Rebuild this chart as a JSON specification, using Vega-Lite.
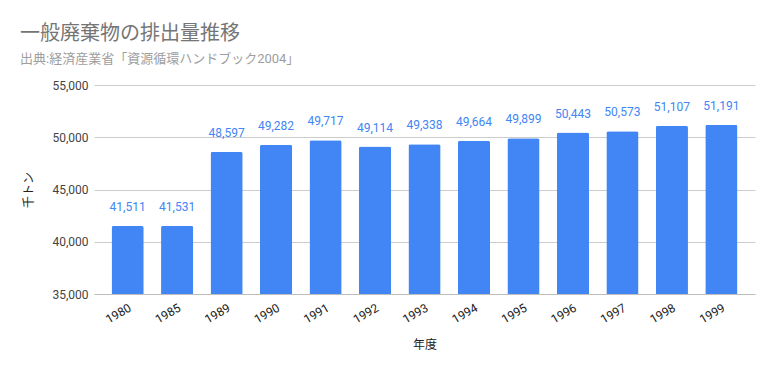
{
  "$schema": "https://vega.github.io/schema/vega-lite/v6.json",
  "width": 661,
  "height": 209,
  "autosize": {"type": "none"},
  "padding": {"left": 94, "top": 85, "right": 19, "bottom": 77},
  "background": "white",
  "title": {
    "text": "一般廃棄物の排出量推移",
    "subtitle": "出典:経済産業省「資源循環ハンドブック2004」",
    "anchor": "start",
    "frame": "group",
    "dx": -74,
    "offset": 13,
    "font": "Roboto, Noto Sans CJK JP",
    "fontSize": 20,
    "fontWeight": "normal",
    "color": "#757575",
    "subtitleFont": "Roboto, Noto Sans CJK JP",
    "subtitleFontSize": 13,
    "subtitleColor": "#9e9e9e",
    "subtitlePadding": 9
  },
  "config": {
    "view": {"stroke": null},
    "font": "Roboto, Noto Sans CJK JP"
  },
  "data": {
    "values": [
      {"year": "1980", "value": 41511},
      {"year": "1985", "value": 41531},
      {"year": "1989", "value": 48597},
      {"year": "1990", "value": 49282},
      {"year": "1991", "value": 49717},
      {"year": "1992", "value": 49114},
      {"year": "1993", "value": 49338},
      {"year": "1994", "value": 49664},
      {"year": "1995", "value": 49899},
      {"year": "1996", "value": 50443},
      {"year": "1997", "value": 50573},
      {"year": "1998", "value": 51107},
      {"year": "1999", "value": 51191}
    ]
  },
  "encoding": {
    "x": {
      "field": "year",
      "type": "ordinal",
      "scale": {"paddingInner": 0.35, "paddingOuter": 0.355},
      "axis": {
        "title": "年度",
        "titleFontSize": 12,
        "titleFontWeight": "normal",
        "titleColor": "#222",
        "titlePadding": 14,
        "labelAngle": -30,
        "labelFontSize": 12,
        "labelColor": "#222",
        "labelPadding": 8,
        "ticks": false,
        "domainColor": "#bdbdbd",
        "grid": false
      }
    },
    "y": {
      "field": "value",
      "type": "quantitative",
      "scale": {"domain": [35000, 55000], "zero": false, "clamp": true},
      "axis": {
        "title": "千トン",
        "titleFontSize": 12,
        "titleFontWeight": "normal",
        "titleColor": "#222",
        "titlePadding": 16,
        "values": [35000, 40000, 45000, 50000, 55000],
        "format": ",d",
        "labelFontSize": 12,
        "labelColor": "#444",
        "labelPadding": 6,
        "ticks": false,
        "domain": false,
        "gridColor": "#cccccc"
      }
    }
  },
  "layer": [
    {
      "mark": {"type": "bar", "color": "#4285f4", "cornerRadiusTopLeft": 2, "cornerRadiusTopRight": 2}
    },
    {
      "mark": {"type": "text", "baseline": "bottom", "dy": -12, "fontSize": 12, "color": "#4285f4"},
      "encoding": {
        "text": {"field": "value", "type": "quantitative", "format": ",d"}
      }
    }
  ]
}
